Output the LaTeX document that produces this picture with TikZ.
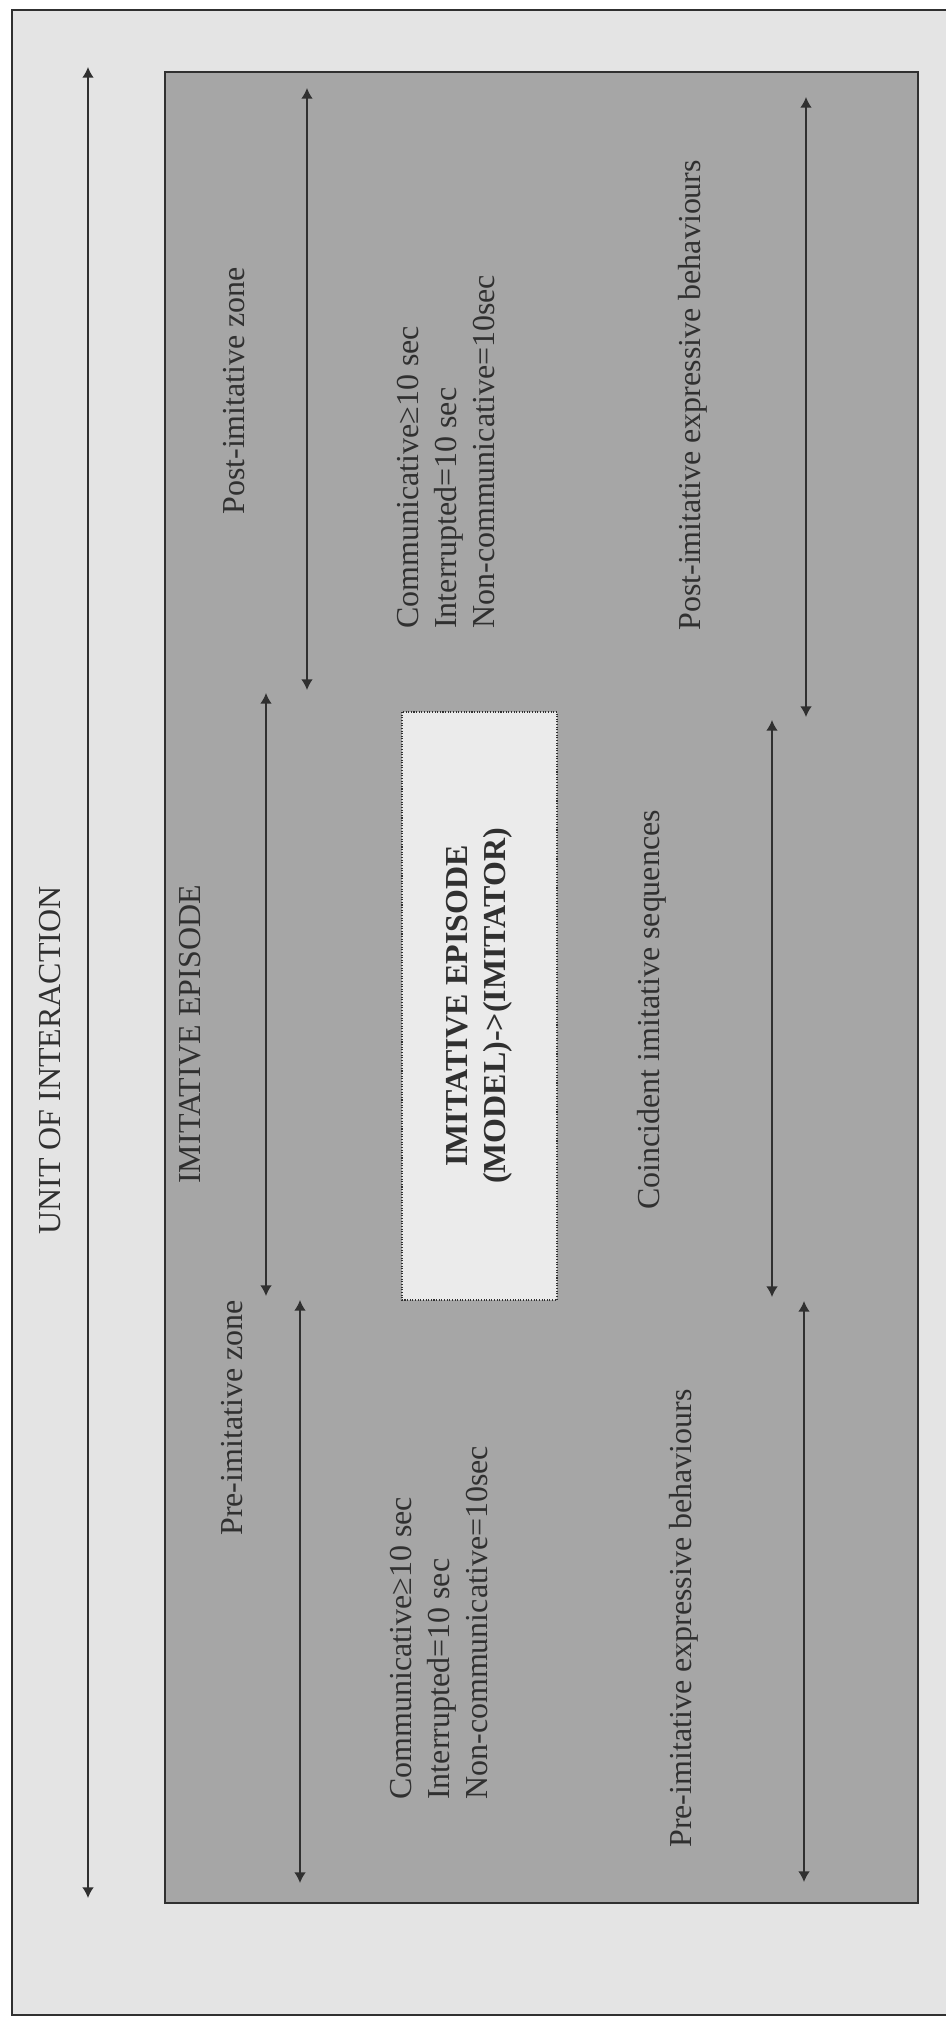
\documentclass[tikz,border=0pt]{standalone}
\usepackage{fontspec}
\setmainfont{Liberation Serif}
\usetikzlibrary{arrows.meta}
\definecolor{inkgray}{HTML}{303030}
\definecolor{paper}{HTML}{E4E4E4}
\definecolor{episodegray}{HTML}{A6A6A6}
\definecolor{boxgray}{HTML}{EBEBEB}

\begin{document}
\begin{tikzpicture}[x=0.02cm,y=-0.02cm]
\tikzstyle{outerframe} = [draw=inkgray, line width=1.2pt, fill=paper]
\tikzstyle{episodearea} = [draw=inkgray, line width=1.2pt, fill=episodegray]
\tikzstyle{focusbox} = [draw=inkgray, line width=0.9pt, dash pattern=on 0.6pt off 0.9pt, fill=boxgray, rotate=90, text=inkgray, font=\fontsize{18.2pt}{21.6pt}\selectfont\bfseries, align=center]
\tikzstyle{vlabel} = [rotate=90, anchor=base west, inner sep=0, text=inkgray, font=\fontsize{18.2pt}{21.6pt}\selectfont]
\tikzstyle{vblock} = [vlabel, anchor=north west, align=left]
\tikzstyle{arrow} = [<->, >={Latex[length=6pt,width=6.5pt]}, draw=inkgray, line width=0.8pt]

\useasboundingbox (0,0) rectangle (946,2019);
\fill [white] (0,0) rectangle (946,2019);
\draw [outerframe] (12,10) rectangle (1000,2015);
\draw [episodearea] (165,72) rectangle (918,1903);

% unit of interaction
\coordinate (UnitTop) at (88,67);
\coordinate (UnitBottom) at (88,1898);
\node (UnitLabel) [vlabel] at (60,1235) {UNIT OF INTERACTION};
\draw [arrow] (UnitTop) -- (UnitBottom);

\node (EpisodeLabel) [vlabel] at (200,1184) {IMITATIVE EPISODE};

% zones
\coordinate (PostZoneTop) at (307,88);
\coordinate (PostZoneBottom) at (307,690);
\coordinate (EpisodeTop) at (266,693);
\coordinate (EpisodeBottom) at (266,1296);
\coordinate (PreZoneTop) at (300,1300);
\coordinate (PreZoneBottom) at (300,1883);
\draw [arrow] (PostZoneTop) -- (PostZoneBottom);
\draw [arrow] (EpisodeTop) -- (EpisodeBottom);
\draw [arrow] (PreZoneTop) -- (PreZoneBottom);

\node (PostZone) [vlabel] at (244,515) {Post-imitative zone};
\node (PreZone) [vlabel] at (242,1536) {Pre-imitative zone};
\node (PostCriteria) [vblock] at (397,629) {Communicative≥10 sec\\Interrupted=10 sec\\Non-communicative=10sec};
\node (PreCriteria) [vblock] at (390,1800) {Communicative≥10 sec\\Interrupted=10 sec\\Non-communicative=10sec};

\node (FocusBox) [focusbox, minimum width=11.76cm, minimum height=3.1cm] at (479.5,1006) {IMITATIVE EPISODE\\(MODEL)->(IMITATOR)};

% behaviours
\coordinate (PostBehTop) at (806,97);
\coordinate (PostBehBottom) at (806,717);
\coordinate (CoincidentTop) at (772,720);
\coordinate (CoincidentBottom) at (772,1297);
\coordinate (PreBehTop) at (804,1301);
\coordinate (PreBehBottom) at (804,1882);
\draw [arrow] (PostBehTop) -- (PostBehBottom);
\draw [arrow] (CoincidentTop) -- (CoincidentBottom);
\draw [arrow] (PreBehTop) -- (PreBehBottom);

\node (Coincident) [vlabel] at (659,1210) {Coincident imitative sequences};
\node (PostExpressive) [vlabel] at (700,631) {Post-imitative expressive behaviours};
\node (PreExpressive) [vlabel] at (691,1848) {Pre-imitative expressive behaviours};

\end{tikzpicture}
\end{document}
